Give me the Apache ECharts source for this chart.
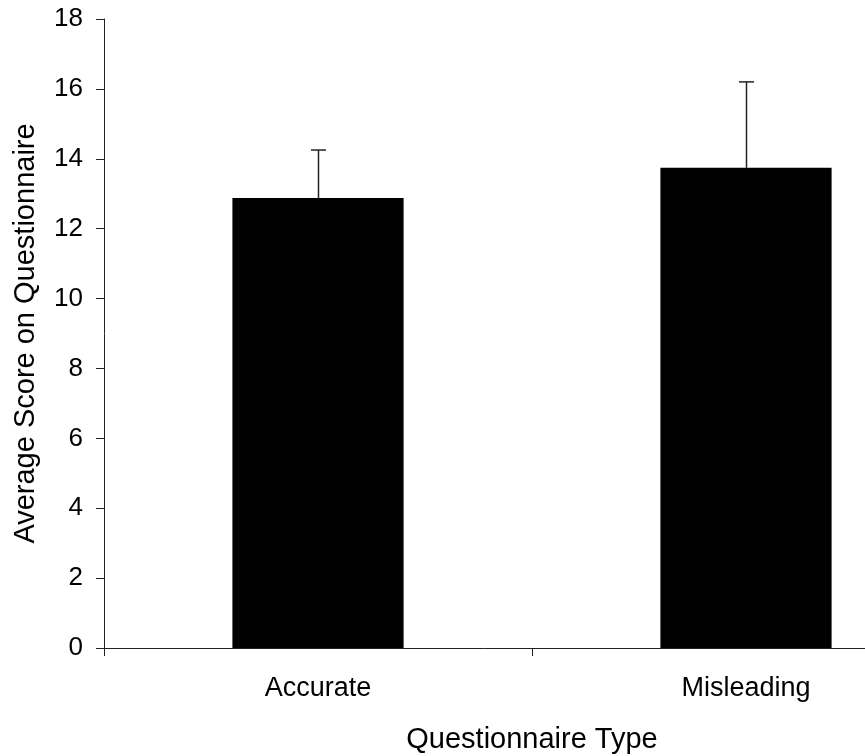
<!DOCTYPE html>
<html>
<head>
<meta charset="utf-8">
<script src="https://cdn.jsdelivr.net/npm/echarts@6/dist/echarts.min.js"></script>
<style>
html,body{margin:0;padding:0;background:#fff;}
#main{width:865px;height:756px;}
</style>
</head>
<body>
<div id="main"></div>
<script>
var categories = ['Accurate', 'Misleading'];
var means = [12.88, 13.74];
var upperErrors = [14.25, 16.2];
var yTicks = [0, 2, 4, 6, 8, 10, 12, 14, 16, 18];

var chart = echarts.init(document.getElementById('main'), null, {renderer: 'canvas'});
var font = '"Liberation Sans", Arial, sans-serif';
var option = {
  backgroundColor: '#fff',
  animation: false,
  grid: {left: 104, top: 19, bottom: 108, right: -95, containLabel: false, outerBoundsMode: 'none'},
  xAxis: {
    type: 'category',
    data: categories,
    boundaryGap: true,
    name: 'Questionnaire Type',
    nameLocation: 'middle',
    nameGap: 77,
    nameMoveOverlap: false,
    nameTextStyle: {fontFamily: font, fontSize: 29, color: '#000'},
    axisLine: {show: true, lineStyle: {color: '#222', width: 1}},
    axisTick: {show: true, length: 8, lineStyle: {color: '#222'}, alignWithLabel: false},
    axisLabel: {fontFamily: font, fontSize: 27, color: '#000', margin: 27},
    splitLine: {show: false}
  },
  yAxis: {
    type: 'value',
    min: yTicks[0],
    max: yTicks[yTicks.length - 1],
    interval: 2,
    name: 'Average Score on Questionnaire',
    nameLocation: 'middle',
    nameGap: 64,
    nameMoveOverlap: false,
    nameRotate: 90,
    nameTextStyle: {fontFamily: font, fontSize: 29, color: '#000'},
    axisLine: {show: true, lineStyle: {color: '#222', width: 1}},
    axisTick: {show: true, length: 8, inside: false, lineStyle: {color: '#222'}},
    axisLabel: {fontFamily: font, fontSize: 26, color: '#000', margin: 21},
    splitLine: {show: false}
  },
  series: [
    {
      type: 'bar',
      data: means,
      barWidth: '40%',
      itemStyle: {color: '#000'},
      z: 2
    },
    {
      type: 'custom',
      data: categories.map(function (c, i) { return [i, means[i], upperErrors[i]]; }),
      renderItem: function (params, api) {
        var base = api.coord([api.value(0), api.value(1)]);
        var top = api.coord([api.value(0), api.value(2)]);
        var x = Math.round(base[0]) + 0.5;
        var half = 7.5;
        return {
          type: 'group',
          children: [
            {type: 'line', shape: {x1: x, y1: base[1], x2: x, y2: top[1]}, style: {stroke: '#222', lineWidth: 1.5}},
            {type: 'line', shape: {x1: x - half, y1: top[1], x2: x + half, y2: top[1]}, style: {stroke: '#222', lineWidth: 1.5}}
          ]
        };
      },
      z: 3
    }
  ]
};
chart.setOption(option);
</script>
</body>
</html>
